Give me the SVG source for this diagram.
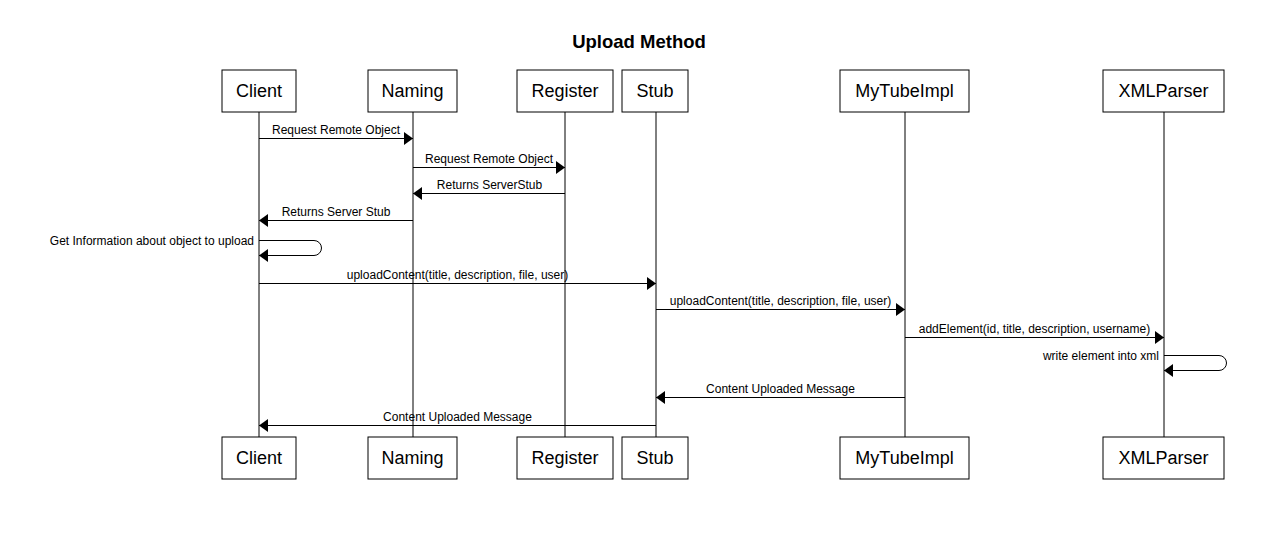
<svg xmlns="http://www.w3.org/2000/svg" width="1272" height="548" viewBox="0 0 1272 548">
<style>
.box{fill:#fff;stroke:#000;stroke-width:1}
.lbl{font-family:"Liberation Sans",Arial,sans-serif;font-size:18px;fill:#000;text-anchor:middle}
.life{stroke:#000;stroke-width:1;fill:none}
.msg{stroke:#000;stroke-width:1;fill:none;marker-end:url(#block)}
.mt{font-family:"Liberation Sans",Arial,sans-serif;font-size:12px;fill:#000;text-anchor:middle}
.mr{text-anchor:end}
.title{font-family:"Liberation Sans",Arial,sans-serif;font-size:18.5px;font-weight:bold;fill:#000;text-anchor:middle}
</style>
<defs>
<marker id="block" markerUnits="userSpaceOnUse" markerWidth="10" markerHeight="14" refX="9" refY="6.5" orient="auto" viewBox="0 0 10 14">
<path d="M0,0 L9,6.5 L0,13 Z" fill="#000"/>
</marker>
</defs>
<rect width="1272" height="548" fill="#fff"/>
<text class="title" x="639" y="48">Upload Method</text>

<g id="lifelines">
<line class="life" x1="259" y1="112" x2="259" y2="437"/>
<line class="life" x1="413" y1="112" x2="413" y2="437"/>
<line class="life" x1="565" y1="112" x2="565" y2="437"/>
<line class="life" x1="656" y1="112" x2="656" y2="437"/>
<line class="life" x1="905" y1="112" x2="905" y2="437"/>
<line class="life" x1="1164" y1="112" x2="1164" y2="437"/>
</g>

<g id="client">
<rect class="box" x="222" y="70" width="74" height="42"/><text class="lbl" x="259" y="97">Client</text>
<rect class="box" x="222" y="437" width="74" height="42"/><text class="lbl" x="259" y="464">Client</text>
</g>
<g id="naming">
<rect class="box" x="368" y="70" width="89" height="42"/><text class="lbl" x="412.5" y="97">Naming</text>
<rect class="box" x="368" y="437" width="89" height="42"/><text class="lbl" x="412.5" y="464">Naming</text>
</g>
<g id="register">
<rect class="box" x="517" y="70" width="96" height="42"/><text class="lbl" x="565" y="97">Register</text>
<rect class="box" x="517" y="437" width="96" height="42"/><text class="lbl" x="565" y="464">Register</text>
</g>
<g id="stub">
<rect class="box" x="622" y="70" width="66" height="42"/><text class="lbl" x="655" y="97">Stub</text>
<rect class="box" x="622" y="437" width="66" height="42"/><text class="lbl" x="655" y="464">Stub</text>
</g>
<g id="mytubeimpl">
<rect class="box" x="840" y="70" width="129" height="42"/><text class="lbl" x="904.5" y="97">MyTubeImpl</text>
<rect class="box" x="840" y="437" width="129" height="42"/><text class="lbl" x="904.5" y="464">MyTubeImpl</text>
</g>
<g id="xmlparser">
<rect class="box" x="1103" y="70" width="121" height="42"/><text class="lbl" x="1163.5" y="97">XMLParser</text>
<rect class="box" x="1103" y="437" width="121" height="42"/><text class="lbl" x="1163.5" y="464">XMLParser</text>
</g>

<g id="connectors">
<path class="msg" d="M259,138.5 H413"/>
<text class="mt" x="336" y="134">Request Remote Object</text>
<path class="msg" d="M413,167.5 H565"/>
<text class="mt" x="489" y="163">Request Remote Object</text>
<path class="msg" d="M565,193.5 H413"/>
<text class="mt" x="489.5" y="189">Returns ServerStub</text>
<path class="msg" d="M413,220.5 H259"/>
<text class="mt" x="336" y="216">Returns Server Stub</text>
<path class="msg" d="M259,240.5 H314 A7.5,7.5 0 0 1 314,255.5 H259"/>
<text class="mt mr" x="254" y="244.5">Get Information about object to upload</text>
<path class="msg" d="M259,283.5 H656"/>
<text class="mt" x="457.5" y="279">uploadContent(title, description, file, user)</text>
<path class="msg" d="M656,309.5 H905"/>
<text class="mt" x="780.5" y="305">uploadContent(title, description, file, user)</text>
<path class="msg" d="M905,337.5 H1164"/>
<text class="mt" x="1034.5" y="333">addElement(id, title, description, username)</text>
<path class="msg" d="M1164,355.5 H1219 A7.5,7.5 0 0 1 1219,370.5 H1164"/>
<text class="mt mr" x="1159" y="360">write element into xml</text>
<path class="msg" d="M905,397.5 H656"/>
<text class="mt" x="780.5" y="393">Content Uploaded Message</text>
<path class="msg" d="M656,425.5 H259"/>
<text class="mt" x="457.5" y="421">Content Uploaded Message</text>
</g>
</svg>
